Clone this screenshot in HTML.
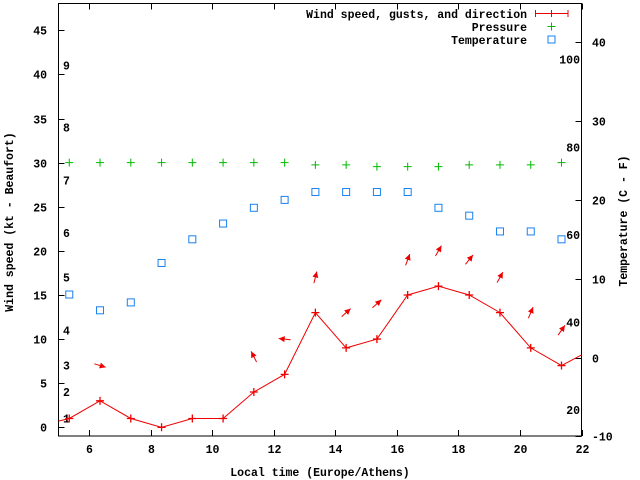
<!DOCTYPE html>
<html><head><meta charset="utf-8"><style>
html,body{margin:0;padding:0;background:#fff;}
svg{display:block;font-family:"Liberation Mono",monospace;font-weight:bold;font-size:11.5px;}
</style></head><body>
<svg id="chart" width="640" height="480" viewBox="0 0 640 480">
<rect x="58.5" y="3.5" width="523" height="432.5" fill="none" stroke="#000" stroke-width="1"/>
<g id="axes"></g>
<g id="series"></g>
<text x="13" y="222" text-anchor="middle" transform="rotate(-90 13 222)">Wind speed (kt - Beaufort)</text>
<text x="627" y="221" text-anchor="middle" transform="rotate(-90 627 221)">Temperature (C - F)</text>
<text x="320" y="476" text-anchor="middle">Local time (Europe/Athens)</text>
<g>
<text x="527" y="18" text-anchor="end">Wind speed, gusts, and direction</text>
<path d="M535.5 13.5H568M535.5 10v7M568 10v7M551.5 10v7" stroke="#e00" stroke-width="1" fill="none"/>
<text x="527" y="31" text-anchor="end">Pressure</text>
<path d="M547.5 26.5h8M551.5 22.5v8" stroke="#0b0" stroke-width="1"/>
<text x="527" y="44" text-anchor="end">Temperature</text>
<rect x="548" y="36" width="7" height="7" fill="none" stroke="#1a80f0" stroke-width="1"/>
</g>
</svg>
<script>
const hours = [5.35,6.35,7.35,8.35,9.35,10.35,11.35,12.35,13.35,14.35,15.35,16.35,17.35,18.35,19.35,20.35,21.35];
const windSpeed = [1,3,1,0,1,1,4,6,13,9,10,15,16,15,13,9,7];
const windGust = [null,7,null,null,null,null,8,10,17,13,14,19,20,19,17,13,11];
const windHeading = [null,107,null,null,null,null,333,276,14,48,48,20,30,39,29,23,35];
const pressure = [30,30,30,30,30,30,30,30,29.75,29.75,29.55,29.55,29.55,29.75,29.75,29.75,30];
const temperature = [8,6,7,12,15,17,19,20,21,21,21,21,19,18,16,16,15];
const xTicks = [6,8,10,12,14,16,18,20,22];
const yTicks = [0,5,10,15,20,25,30,35,40,45];
const y2Ticks = [-10,0,10,20,30,40];
const beaufortLabels = ["1","2","3","4","5","6","7","8","9"];
const beaufortKt = [1,4,7,11,17,22,28,34,41];
const fahrenheitLabels = ["20","40","60","80","100"];
const fahrenheitValues = [20,40,60,80,100];

const NS="http://www.w3.org/2000/svg";
const L=58.5,R=581.5,T=3.5,B=436;
const X=v=>L+(v-5)/(22-5)*(R-L);
const Y=v=>427.3-v*8.822;
const Y2=c=>357.6-c*7.885;
const axes=document.getElementById('axes'), ser=document.getElementById('series');
function mk(tag,attrs,parent){const e=document.createElementNS(NS,tag);for(const k in attrs)e.setAttribute(k,attrs[k]);parent.appendChild(e);return e;}

xTicks.forEach(v=>{
  const x=Math.round(X(v))+0.5;
  const t=mk('path',{d:`M${x} ${B}v-6M${x} ${T}v6`,stroke:'#000'},axes);
  
  
  const l=mk('text',{x:x,y:B+17,'text-anchor':'middle'},axes);l.textContent=v;
  
  
});
yTicks.forEach(v=>{
  const y=Math.round(Y(v))+0.5;
  const t=mk('path',{d:`M${L} ${y}h6`,stroke:'#000'},axes);
  
  
  const l=mk('text',{x:47,y:y+4,'text-anchor':'end'},axes);l.textContent=v;
  
  
});
y2Ticks.forEach(v=>{
  const y=Math.round(Y2(v))+0.5;
  const t=mk('path',{d:`M${R} ${y}h-6`,stroke:'#000'},axes);
  
  
  const l=mk('text',{x:592,y:y+4},axes);l.textContent=v;
  
  
});
beaufortKt.forEach((v,i)=>{
  const l=mk('text',{x:63,y:Y(v)+4},axes);l.textContent=beaufortLabels[i];
  
  
});
fahrenheitValues.forEach((f,i)=>{
  const l=mk('text',{x:580,y:Y2((f-32)*5/9)+4,'text-anchor':'end'},axes);l.textContent=fahrenheitLabels[i];
  
  
});

// pressure
pressure.forEach((p,i)=>{
  const x=X(hours[i]),y=Y(p);
  const m=mk('path',{d:`M${x-4} ${y}h8M${x} ${y-4}v8`,stroke:'#0b0'},ser);
  
  
});
// temperature
temperature.forEach((c,i)=>{
  const x=X(hours[i]),y=Y2(c);
  const m=mk('rect',{x:x-3.5,y:y-3.5,width:7,height:7,fill:'none',stroke:'#1a80f0'},ser);
  
  
});
// wind line (with edge continuation)
let pts=hours.map((h,i)=>[X(h),Y(windSpeed[i])]);
const first=[L,Y(windSpeed[0]-0.3)], last=[R,Y(windSpeed[windSpeed.length-1]+1.2)];
const all=[first,...pts,last];
const line=mk('polyline',{points:all.map(p=>p.join(',')).join(' '),fill:'none',stroke:'#e00','stroke-width':1},ser);


pts.forEach(p=>{
  const m=mk('path',{d:`M${p[0]-4} ${p[1]}h8M${p[0]} ${p[1]-4}v8`,stroke:'#e00','stroke-width':1.3},ser);
  
  
});
// direction arrows
windHeading.forEach((h,i)=>{
  if(h===null||windGust[i]===null)return;
  const cx=X(hours[i]),cy=Y(windGust[i]),len=12,a=h*Math.PI/180;
  const dx=Math.sin(a)*len/2,dy=-Math.cos(a)*len/2;
  const hx=cx+dx,hy=cy+dy,tx=cx-dx,ty=cy-dy;
  const ux=dx/(len/2),uy=dy/(len/2),px=-uy,py=ux;
  const g=mk('g',{},ser);
  
  
  mk('line',{x1:tx,y1:ty,x2:hx,y2:hy,stroke:'#e00','stroke-width':1},g);
  mk('polygon',{points:`${hx},${hy} ${hx-ux*6+px*3},${hy-uy*6+py*3} ${hx-ux*6-px*3},${hy-uy*6-py*3}`,fill:'#e00'},g);
});
</script>
</body></html>
